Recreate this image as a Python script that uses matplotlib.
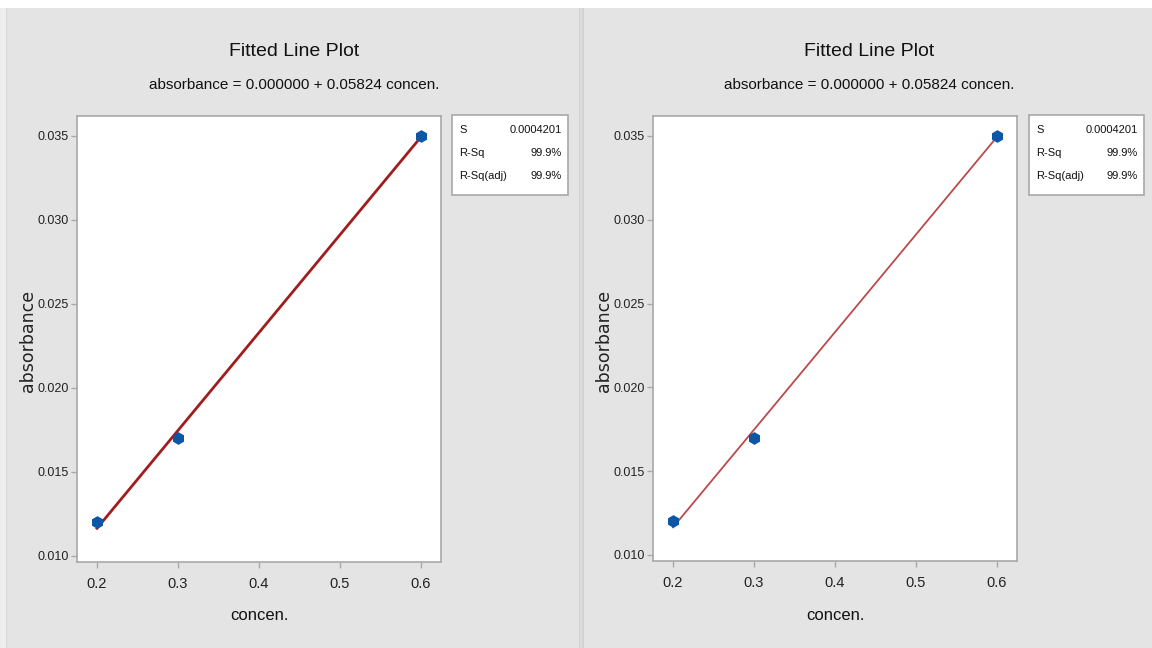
import matplotlib
matplotlib.use("Agg")
import matplotlib.pyplot as plt
from matplotlib import font_manager
from matplotlib.patches import Rectangle

# ---- data ----
concen = [0.2, 0.3, 0.6]
absorbance = [0.012, 0.017, 0.035]
intercept = 0.0
slope = 0.05824
title = "Fitted Line Plot"
equation = "absorbance = 0.000000 + 0.05824 concen."
stat_names = ["S", "R-Sq", "R-Sq(adj)"]
stat_values = ["0.0004201", "99.9%", "99.9%"]
xticks = [0.2, 0.3, 0.4, 0.5, 0.6]
xticklabels = ["0.2", "0.3", "0.4", "0.5", "0.6"]
yticks = [0.010, 0.015, 0.020, 0.025, 0.030, 0.035]
yticklabels = ["0.010", "0.015", "0.020", "0.025", "0.030", "0.035"]

avail = {f.name for f in font_manager.fontManager.ttflist}
narrow = "Liberation Sans Narrow" if "Liberation Sans Narrow" in avail else "Liberation Sans"
plt.rcParams['font.family'] = [narrow, 'DejaVu Sans']

W, H = 1152, 648
fig = plt.figure(figsize=(W / 100, H / 100), dpi=100, facecolor="#e4e4e4")

def frect(x0, y0, x1, y1, **kw):
    fig.patches.append(Rectangle((x0 / W, 1 - y1 / H), (x1 - x0) / W, (y1 - y0) / H,
                                 transform=fig.transFigure, figure=fig, **kw))

# background decorations
frect(0, 0, W, 8, facecolor="white", edgecolor="none")
frect(0, 8, 6, H, facecolor="#eeeeee", edgecolor="none")
frect(6, 8, 7, H, facecolor="#d6d6d6", edgecolor="none")
frect(579, 8, 584, H, facecolor="#d2d2d2", edgecolor="none")
frect(580, 8, 582, H, facecolor="#dcdcdc", edgecolor="none")

panels = [
    dict(ax=(77, 116, 441, 562), cx=294, leg=(452, 115, 568, 195), ylab_x=28,
         lc="#a11d1d", lw=2.0),
    dict(ax=(653, 116, 1017, 561), cx=869, leg=(1029, 115, 1144, 195), ylab_x=604,
         lc="#bb4a4a", lw=1.3),
]

for p in panels:
    x0, y0, x1, y1 = p["ax"]
    ax = fig.add_axes([x0 / W, 1 - y1 / H, (x1 - x0) / W, (y1 - y0) / H])
    ax.set_facecolor("white")
    xs = [min(concen), max(concen)]
    ax.plot(xs, [intercept + slope * v for v in xs], color=p["lc"], lw=p["lw"], zorder=2)
    ax.plot(concen, absorbance, linestyle="none", marker="h", markersize=8,
            color="#0b56a6", zorder=3)
    ax.set_xlim(0.1753, 0.6247)
    ax.set_ylim(0.00964, 0.03619)
    ax.set_xticks(xticks)
    ax.set_xticklabels(xticklabels, fontsize=10.5)
    ax.set_yticks(yticks)
    ax.set_yticklabels(yticklabels, fontsize=9)
    for s in ax.spines.values():
        s.set_color("#a8a8a8")
        s.set_linewidth(1.2)
    ax.tick_params(axis="both", colors="#a8a8a8", length=4, width=1, labelcolor="#222222")
    ax.tick_params(axis="x", pad=7)
    ax.tick_params(axis="y", pad=2)

    # titles
    fig.text(p["cx"] / W, 1 - 52 / H, title, ha="center", va="center", fontsize=14, color="#111111")
    fig.text(p["cx"] / W, 1 - 85 / H, equation, ha="center", va="center", fontsize=11, color="#111111")
    # axis labels
    fig.text(((x0 + x1) / 2) / W, 1 - 615 / H, "concen.", ha="center", va="center",
             fontsize=12, color="#111111")
    fig.text(p["ylab_x"] / W, 1 - 341 / H, "absorbance", ha="center", va="center",
             rotation=90, fontsize=12.5, color="#222222", family="DejaVu Sans")

    # stats box
    lx0, ly0, lx1, ly1 = p["leg"]
    frect(lx0, ly0, lx1, ly1, facecolor="white", edgecolor="#a8a8a8", lw=1.2)
    for i, (n, v) in enumerate(zip(stat_names, stat_values)):
        yy = 1 - (ly0 + 15 + i * 23) / H
        fig.text((lx0 + 7) / W, yy, n, ha="left", va="center", fontsize=8, color="#111111")
        fig.text((lx1 - 6) / W, yy, v, ha="right", va="center", fontsize=8, color="#111111")

fig.savefig("out.png", dpi=100, facecolor=fig.get_facecolor())
